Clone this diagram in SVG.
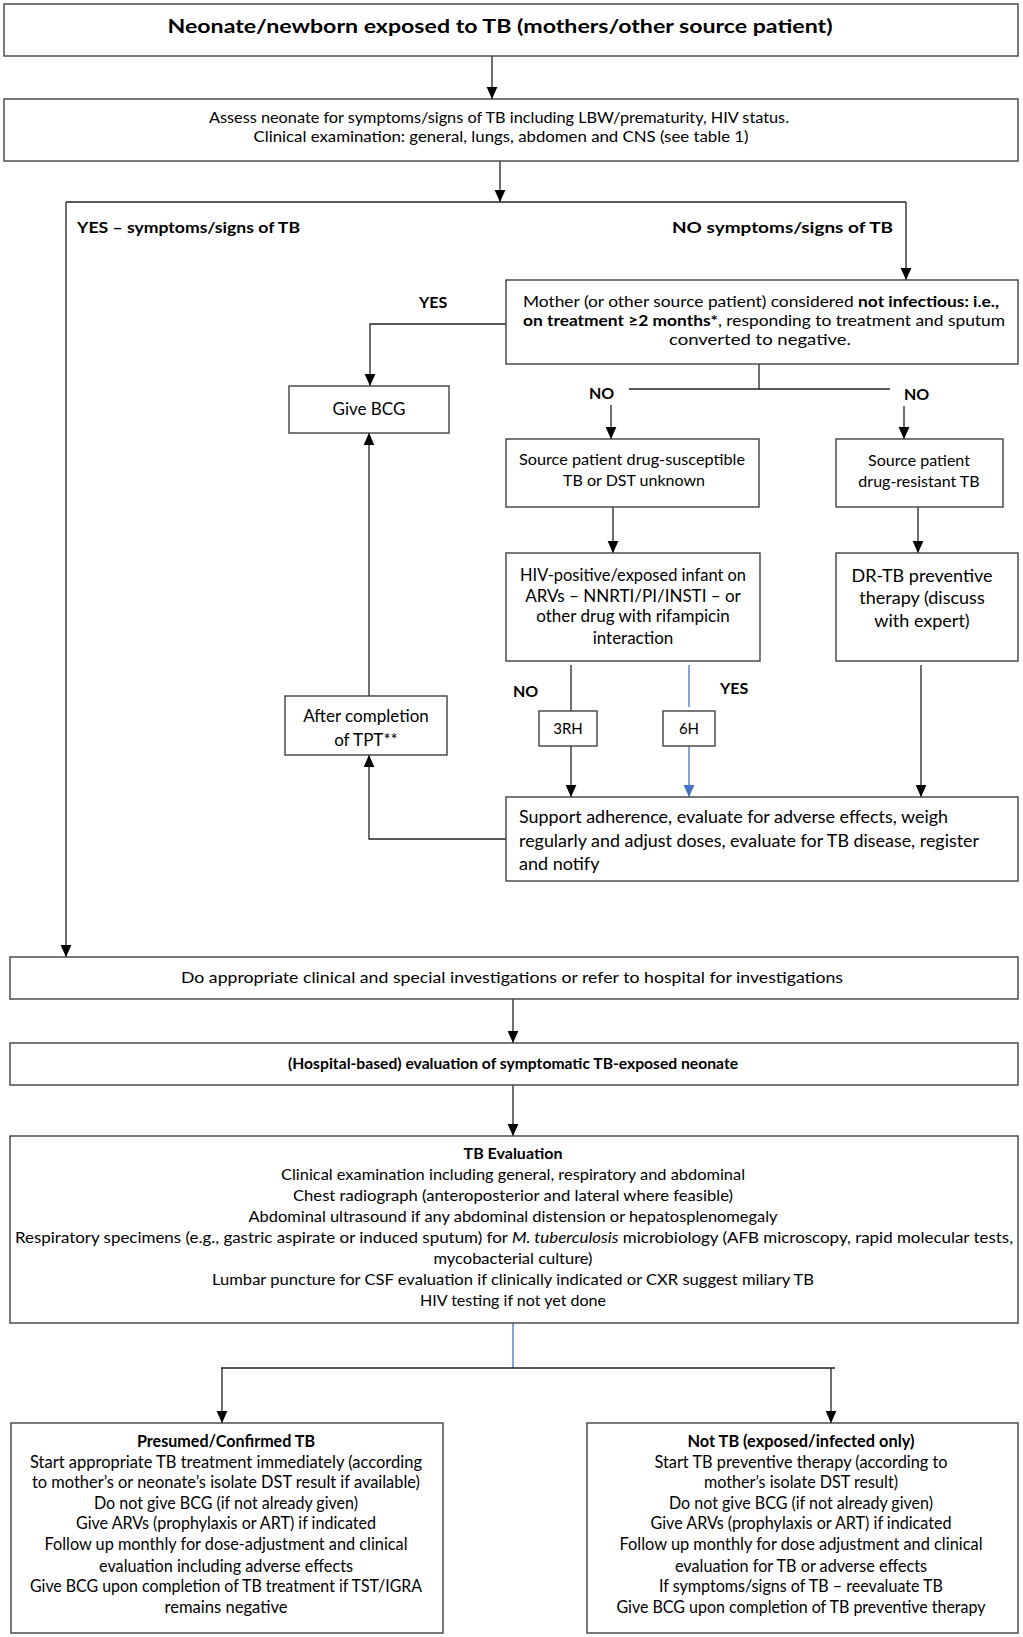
<svg xmlns="http://www.w3.org/2000/svg" width="1023" height="1637" viewBox="0 0 1023 1637">
<defs>
<marker id="ah" markerUnits="userSpaceOnUse" markerWidth="12" markerHeight="12" viewBox="0 0 10 10" refX="10" refY="5" orient="auto">
<path d="M0,0.5 L10,5 L0,9.5 Z" fill="#000"/>
</marker>
<marker id="ahb" markerUnits="userSpaceOnUse" markerWidth="12" markerHeight="12" viewBox="0 0 10 10" refX="10" refY="5" orient="auto">
<path d="M0,0.5 L10,5 L0,9.5 Z" fill="#4472C4"/>
</marker>
</defs>
<style>
rect{fill:#fff;stroke:#404040;stroke-width:1.4}
text{font-family:Lato,"Open Sans","Liberation Sans",sans-serif;fill:#000}
.c{text-anchor:middle}
.b{font-weight:bold}
.f15{font-size:15px}
.f16{font-size:16px}
.f17{font-size:17px}
.f18{font-size:18px}
.ln{fill:none;stroke:#222;stroke-width:1.3}
.lb{fill:none;stroke:#4472C4;stroke-width:1.3}
.ar{marker-end:url(#ah)}
.arb{marker-end:url(#ahb)}
</style>
<rect width="1023" height="1637" style="fill:#fff;stroke:none"/>

<g id="connectors">
<line class="ln ar" x1="492" y1="56" x2="492" y2="99"/>
<line class="ln ar" x1="500" y1="161" x2="500" y2="202"/>
<polyline class="ln" points="66,202 906,202"/>
<line class="ln ar" x1="66" y1="202" x2="66" y2="957"/>
<line class="ln ar" x1="906" y1="202" x2="906" y2="280"/>
<polyline class="ln ar" points="506,324 370,324 370,386"/>
<line class="ln" x1="759" y1="364" x2="759" y2="389"/>
<line class="ln" x1="629" y1="389" x2="890" y2="389"/>
<line class="ln ar" x1="611" y1="405" x2="611" y2="439"/>
<line class="ln ar" x1="904" y1="406" x2="904" y2="439"/>
<line class="ln ar" x1="613" y1="507" x2="613" y2="553"/>
<line class="ln ar" x1="918" y1="507" x2="918" y2="553"/>
<line class="ln" x1="571" y1="665" x2="571" y2="711"/>
<line class="ln ar" x1="571" y1="746" x2="571" y2="797"/>
<line class="lb" x1="689" y1="665" x2="689" y2="707"/>
<line class="lb arb" x1="689" y1="746" x2="689" y2="797"/>
<line class="ln ar" x1="921" y1="665" x2="921" y2="797"/>
<line class="ln ar" x1="369" y1="696" x2="369" y2="433"/>
<polyline class="ln ar" points="506,839 369,839 369,755"/>
<line class="ln ar" x1="513" y1="999" x2="513" y2="1043"/>
<line class="ln ar" x1="513" y1="1085" x2="513" y2="1136"/>
<line class="lb" x1="513" y1="1323" x2="513" y2="1368"/>
<line class="ln" x1="221" y1="1368" x2="835" y2="1368"/>
<line class="ln ar" x1="222" y1="1368" x2="222" y2="1423"/>
<line class="ln ar" x1="831" y1="1368" x2="831" y2="1423"/>
</g>

<g id="labels">
<text class="b f16" x="77" y="233" textLength="223" lengthAdjust="spacingAndGlyphs">YES – symptoms/signs of TB</text>
<text class="b f16" x="672" y="233" textLength="221" lengthAdjust="spacingAndGlyphs">NO symptoms/signs of TB</text>
<text class="b f16" x="419" y="308">YES</text>
<text class="b f16" x="589" y="399">NO</text>
<text class="b f16" x="904" y="400">NO</text>
<text class="b f16" x="513" y="697">NO</text>
<text class="b f16" x="720" y="694">YES</text>
</g>

<g id="n-title">
<rect x="4" y="4" width="1014" height="52"/>
<text class="c b" style="font-size:19px" x="500" y="33" textLength="665" lengthAdjust="spacingAndGlyphs">Neonate/newborn exposed to TB (mothers/other source patient)</text>
</g>

<g id="n-assess">
<rect x="4" y="99" width="1014" height="62"/>
<text class="c f15" x="499" y="123" textLength="580" lengthAdjust="spacingAndGlyphs">Assess neonate for symptoms/signs of TB including LBW/prematurity, HIV status.</text>
<text class="c f15" x="501" y="142" textLength="495" lengthAdjust="spacingAndGlyphs">Clinical examination: general, lungs, abdomen and CNS (see table 1)</text>
</g>

<g id="n-mother">
<rect x="506" y="280" width="512" height="84"/>
<text class="c f15" x="761" y="307" textLength="476" lengthAdjust="spacingAndGlyphs">Mother (or other source patient) considered <tspan class="b">not infectious: i.e.,</tspan></text>
<text class="c f15" x="764" y="326" textLength="482" lengthAdjust="spacingAndGlyphs"><tspan class="b">on treatment ≥2 months*</tspan>, responding to treatment and sputum</text>
<text class="c f15" x="760" y="345" textLength="182" lengthAdjust="spacingAndGlyphs">converted to negative.</text>
</g>

<g id="n-bcg">
<rect x="289" y="386" width="160" height="47"/>
<text class="c f17" x="369" y="415">Give BCG</text>
</g>

<g id="n-ds">
<rect x="506" y="439" width="253" height="68"/>
<text class="c f16" x="632" y="465" textLength="226" lengthAdjust="spacingAndGlyphs">Source patient drug-susceptible</text>
<text class="c f16" x="634" y="486">TB or DST unknown</text>
</g>

<g id="n-dr">
<rect x="836" y="439" width="167" height="68"/>
<text class="c f16" x="919" y="466">Source patient</text>
<text class="c f16" x="919" y="487">drug-resistant TB</text>
</g>

<g id="n-hiv">
<rect x="506" y="553" width="254" height="108"/>
<text class="c f17" x="633" y="581" textLength="226" lengthAdjust="spacingAndGlyphs">HIV-positive/exposed infant on</text>
<text class="c f17" x="633" y="602">ARVs – NNRTI/PI/INSTI – or</text>
<text class="c f17" x="633" y="622">other drug with rifampicin</text>
<text class="c f17" x="633" y="644">interaction</text>
</g>

<g id="n-drtpt">
<rect x="836" y="553" width="182" height="108"/>
<text class="c f18" x="922" y="582">DR-TB preventive</text>
<text class="c f18" x="922" y="604">therapy (discuss</text>
<text class="c f18" x="922" y="627">with expert)</text>
</g>

<g id="n-3rh">
<rect x="539" y="711" width="58" height="35"/>
<text class="c f15" x="568" y="734">3RH</text>
</g>

<g id="n-6h">
<rect x="663" y="711" width="52" height="35"/>
<text class="c f15" x="689" y="734">6H</text>
</g>

<g id="n-after">
<rect x="285" y="696" width="162" height="59"/>
<text class="c f17" x="366" y="722">After completion</text>
<text class="c f17" x="366" y="746">of TPT**</text>
</g>

<g id="n-support">
<rect x="506" y="797" width="512" height="84"/>
<text class="f18" x="519" y="823" textLength="429" lengthAdjust="spacingAndGlyphs">Support adherence, evaluate for adverse effects, weigh</text>
<text class="f18" x="519" y="847" textLength="460" lengthAdjust="spacingAndGlyphs">regularly and adjust doses, evaluate for TB disease, register</text>
<text class="f18" x="519" y="870">and notify</text>
</g>

<g id="n-doapp">
<rect x="10" y="957" width="1008" height="42"/>
<text class="c f16" x="512" y="983" textLength="662" lengthAdjust="spacingAndGlyphs">Do appropriate clinical and special investigations or refer to hospital for investigations</text>
</g>

<g id="n-hosp">
<rect x="10" y="1043" width="1008" height="42"/>
<text class="c b f15" x="513" y="1069" textLength="450" lengthAdjust="spacingAndGlyphs">(Hospital-based) evaluation of symptomatic TB-exposed neonate</text>
</g>

<g id="n-tbeval">
<rect x="10" y="1136" width="1008" height="187"/>
<text class="c b f16" x="513" y="1158.5">TB Evaluation</text>
<text class="c f16" x="513" y="1179.5" textLength="464" lengthAdjust="spacingAndGlyphs">Clinical examination including general, respiratory and abdominal</text>
<text class="c f16" x="513" y="1200.5" textLength="440" lengthAdjust="spacingAndGlyphs">Chest radiograph (anteroposterior and lateral where feasible)</text>
<text class="c f16" x="513" y="1221.5" textLength="529" lengthAdjust="spacingAndGlyphs">Abdominal ultrasound if any abdominal distension or hepatosplenomegaly</text>
<text class="c f16" x="514" y="1242.5" textLength="998" lengthAdjust="spacingAndGlyphs">Respiratory specimens (e.g., gastric aspirate or induced sputum) for <tspan font-style="italic">M. tuberculosis</tspan> microbiology (AFB microscopy, rapid molecular tests,</text>
<text class="c f16" x="513" y="1263.5" textLength="159" lengthAdjust="spacingAndGlyphs">mycobacterial culture)</text>
<text class="c f16" x="513" y="1284.5" textLength="602" lengthAdjust="spacingAndGlyphs">Lumbar puncture for CSF evaluation if clinically indicated or CXR suggest miliary TB</text>
<text class="c f16" x="513" y="1305.5" textLength="186" lengthAdjust="spacingAndGlyphs">HIV testing if not yet done</text>
</g>

<g id="n-presumed">
<rect x="11" y="1423" width="432" height="210"/>
<text class="c b f17" x="226" y="1447" textLength="178" lengthAdjust="spacingAndGlyphs">Presumed/Confirmed TB</text>
<text class="c f17" x="226" y="1468" textLength="392" lengthAdjust="spacingAndGlyphs">Start appropriate TB treatment immediately (according</text>
<text class="c f17" x="226" y="1488" textLength="388" lengthAdjust="spacingAndGlyphs">to mother’s or neonate’s isolate DST result if available)</text>
<text class="c f17" x="226" y="1509" textLength="264" lengthAdjust="spacingAndGlyphs">Do not give BCG (if not already given)</text>
<text class="c f17" x="226" y="1529" textLength="300" lengthAdjust="spacingAndGlyphs">Give ARVs (prophylaxis or ART) if indicated</text>
<text class="c f17" x="226" y="1550" textLength="363" lengthAdjust="spacingAndGlyphs">Follow up monthly for dose-adjustment and clinical</text>
<text class="c f17" x="226" y="1572" textLength="254" lengthAdjust="spacingAndGlyphs">evaluation including adverse effects</text>
<text class="c f17" x="226" y="1592" textLength="392" lengthAdjust="spacingAndGlyphs">Give BCG upon completion of TB treatment if TST/IGRA</text>
<text class="c f17" x="226" y="1613" textLength="123" lengthAdjust="spacingAndGlyphs">remains negative</text>
</g>

<g id="n-nottb">
<rect x="587" y="1423" width="431" height="210"/>
<text class="c b f17" x="801" y="1447" textLength="227" lengthAdjust="spacingAndGlyphs">Not TB (exposed/infected only)</text>
<text class="c f17" x="801" y="1468" textLength="293" lengthAdjust="spacingAndGlyphs">Start TB preventive therapy (according to</text>
<text class="c f17" x="801" y="1488" textLength="194" lengthAdjust="spacingAndGlyphs">mother’s isolate DST result)</text>
<text class="c f17" x="801" y="1509" textLength="264" lengthAdjust="spacingAndGlyphs">Do not give BCG (if not already given)</text>
<text class="c f17" x="801" y="1529" textLength="301" lengthAdjust="spacingAndGlyphs">Give ARVs (prophylaxis or ART) if indicated</text>
<text class="c f17" x="801" y="1550" textLength="363" lengthAdjust="spacingAndGlyphs">Follow up monthly for dose adjustment and clinical</text>
<text class="c f17" x="801" y="1572" textLength="252" lengthAdjust="spacingAndGlyphs">evaluation for TB or adverse effects</text>
<text class="c f17" x="801" y="1592" textLength="284" lengthAdjust="spacingAndGlyphs">If symptoms/signs of TB – reevaluate TB</text>
<text class="c f17" x="801" y="1613" textLength="369" lengthAdjust="spacingAndGlyphs">Give BCG upon completion of TB preventive therapy</text>
</g>
</svg>
